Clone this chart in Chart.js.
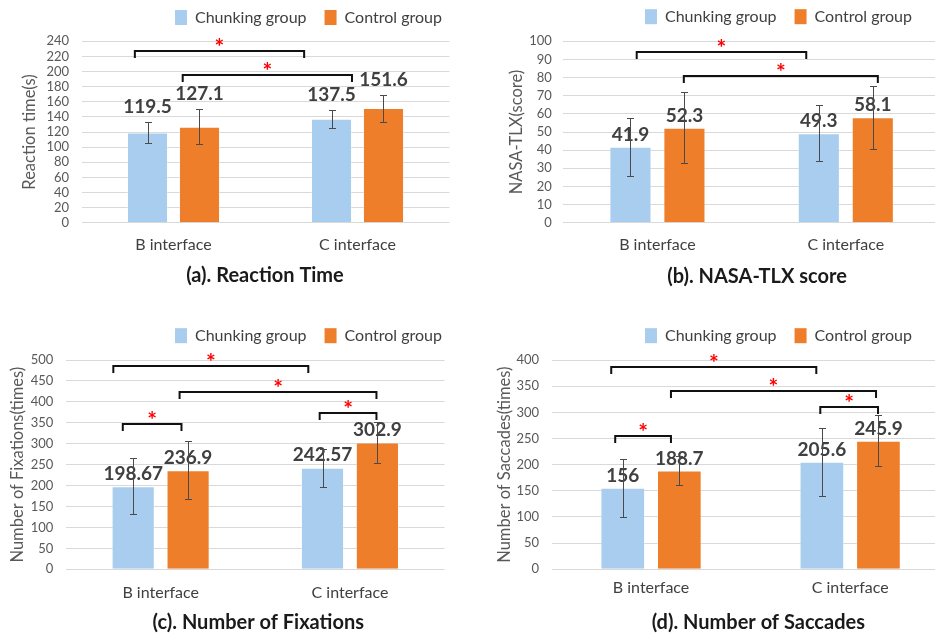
<!DOCTYPE html>
<html><head><meta charset="utf-8">
<script src="https://cdn.jsdelivr.net/npm/chart.js@4.4.1/dist/chart.umd.min.js"></script>
<style>
html,body{margin:0;padding:0;background:#fff;overflow:hidden;width:935px;height:635px;position:relative;}
canvas{position:absolute;display:block;}
</style></head><body>
<canvas id="ca" width="465" height="300" style="left:0;top:0"></canvas>
<canvas id="cb" width="480" height="300" style="left:465px;top:0"></canvas>
<canvas id="cc" width="465" height="315" style="left:0;top:320px"></canvas>
<canvas id="cd" width="490" height="315" style="left:465px;top:320px"></canvas>
<script>
// ---------- data ----------
const categories = ['B interface', 'C interface'];
const groupNames = ['Chunking group', 'Control group'];

const reactionChunking = [119.5, 137.5];
const reactionControl = [127.1, 151.6];
const reactionChunkingSD = [14, 12];
const reactionControlSD = [23.5, 18];
const reactionYMax = 240, reactionYStep = 20;

const nasaChunking = [41.9, 49.3];
const nasaControl = [52.3, 58.1];
const nasaChunkingSD = [16, 15.5];
const nasaControlSD = [19.5, 17.5];
const nasaYMax = 100, nasaYStep = 10;

const fixChunking = [198.67, 242.57];
const fixControl = [236.9, 302.9];
const fixChunkingSD = [67, 45];
const fixControlSD = [69.5, 48];
const fixYMax = 500, fixYStep = 50;

const sacChunking = [156, 205.6];
const sacControl = [188.7, 245.9];
const sacChunkingSD = [55.5, 65];
const sacControlSD = [28, 49];
const sacYMax = 400, sacYStep = 50;

// significance brackets: [from category position, to category position, height in axis units]
const reactionSig = [[-0.21, 0.71, 227], [0.05, 0.97, 196]];
const nasaSig = [[-0.11, 0.79, 94.1], [0.14, 1.17, 80.9]];
const fixSig = [[-0.25, 0.78, 486], [0.10, 1.14, 423], [-0.20, 0.11, 348], [0.84, 1.14, 374]];
const sacSig = [[-0.20, 0.83, 387], [0.10, 1.13, 341], [-0.18, 0.10, 255], [0.85, 1.14, 310]];

// ---------- styles ----------
const BLUE = '#A8CDEE', ORANGE = '#EE7E2A';
const FONT = 'Lato';

const overlay = {
  id: 'overlay',
  afterDatasetsDraw(chart, args, o) {
    const ctx = chart.ctx, ys = chart.scales.y, xs = chart.scales.x;
    ctx.save();
    // value labels
    ctx.font = 'bold 19px ' + FONT;
    ctx.fillStyle = '#404040';
    ctx.textAlign = 'center';
    ctx.textBaseline = 'middle';
    chart.data.datasets.forEach((ds, di) => {
      chart.getDatasetMeta(di).data.forEach((bar, i) => {
        const v = ds.data[i];
        let yy;
        if (o.labelAnchor === 'err') yy = ys.getPixelForValue(v + ds.errors[i]) - o.labelGap;
        else yy = bar.y - o.labelGap;
        ctx.fillText(String(v), bar.x, yy);
      });
    });
    // error bars
    ctx.strokeStyle = '#4a4a4a';
    ctx.lineWidth = 1;
    chart.data.datasets.forEach((ds, di) => {
      chart.getDatasetMeta(di).data.forEach((bar, i) => {
        const v = ds.data[i], e = ds.errors[i];
        const yt = Math.round(ys.getPixelForValue(v + e)) + 0.5;
        const yb = Math.round(ys.getPixelForValue(v - e)) + 0.5;
        const cx = Math.round(bar.x) + 0.5;
        ctx.beginPath();
        ctx.moveTo(cx, yt); ctx.lineTo(cx, yb);
        ctx.moveTo(cx - 3.5, yt); ctx.lineTo(cx + 3.5, yt);
        ctx.moveTo(cx - 3.5, yb); ctx.lineTo(cx + 3.5, yb);
        ctx.stroke();
      });
    });
    // significance brackets
    o.sig.forEach(([a, b, h]) => {
      const x1 = xs.getPixelForValue(a), x2 = xs.getPixelForValue(b);
      const yy = Math.round(ys.getPixelForValue(h));
      ctx.strokeStyle = '#111';
      ctx.lineWidth = 2;
      ctx.beginPath();
      ctx.moveTo(x1, yy + 7); ctx.lineTo(x1, yy); ctx.lineTo(x2, yy); ctx.lineTo(x2, yy + 7);
      ctx.stroke();
      ctx.fillStyle = '#FF0000';
      ctx.font = 'bold 23px ' + FONT;
      ctx.textAlign = 'center';
      ctx.textBaseline = 'alphabetic';
      ctx.fillText('*', (x1 + x2) / 2, yy - 9 + 0.56 * 23);
    });
    ctx.restore();
  },
  afterDraw(chart, args, o) {
    const ctx = chart.ctx;
    ctx.save();
    // legend
    let lx = o.legendX;
    const ly = o.legendY;
    ctx.font = '16px ' + FONT;
    ctx.textBaseline = 'middle';
    ctx.textAlign = 'left';
    chart.data.datasets.forEach(ds => {
      ctx.fillStyle = ds.backgroundColor;
      ctx.fillRect(lx, ly - 7.5, 12, 15);
      ctx.fillStyle = '#404040';
      ctx.fillText(ds.label, lx + 20, ly);
      lx += 20 + ctx.measureText(ds.label).width + 18;
    });
    // caption
    ctx.font = 'bold 20px ' + FONT;
    ctx.fillStyle = '#1a1a1a';
    ctx.textAlign = 'center';
    ctx.fillText(o.caption, o.captionX, o.captionY);
    ctx.restore();
  }
};

function makeChart(id, d, L) {
  return new Chart(document.getElementById(id), {
    type: 'bar',
    data: {
      labels: categories,
      datasets: [
        { label: groupNames[0], data: d.chunk, errors: d.chunkSD, backgroundColor: BLUE,
          borderColor: 'rgba(255,255,255,0.35)', borderWidth: 1,
          categoryPercentage: L.cp, barPercentage: L.bp },
        { label: groupNames[1], data: d.ctrl, errors: d.ctrlSD, backgroundColor: ORANGE,
          borderColor: 'rgba(255,255,255,0.35)', borderWidth: 1,
          categoryPercentage: L.cp, barPercentage: L.bp }
      ]
    },
    options: {
      responsive: false,
      devicePixelRatio: 1,
      animation: false,
      events: [],
      layout: { autoPadding: false, padding: { left: 0, right: L.padR, top: L.padT, bottom: L.padB } },
      plugins: {
        legend: { display: false },
        title: { display: false },
        tooltip: { enabled: false },
        overlay: { sig: d.sig, caption: d.caption, labelAnchor: L.labelAnchor, labelGap: L.labelGap,
                   legendX: L.legendX, legendY: L.legendY, captionX: L.captionX, captionY: L.captionY }
      },
      scales: {
        x: {
          afterFit: s => { s.height = L.xH; },
          grid: { display: false, drawTicks: false },
          border: { display: false },
          ticks: { padding: L.xTickPad, color: '#404040', font: { family: FONT, size: 16 } }
        },
        y: {
          min: 0, max: d.yMax,
          afterFit: s => { s.width = L.yW; },
          grid: { color: '#D9D9D9', lineWidth: 1, drawTicks: false },
          border: { display: false },
          ticks: { stepSize: d.yStep, autoSkip: false, padding: L.yTickPad, color: '#595959', font: { family: FONT, size: 13 } },
          title: { display: true, text: d.yTitle, color: '#595959', font: { family: FONT, size: 16.5 },
                   padding: { top: L.yTitlePad, bottom: 0 } }
        }
      }
    },
    plugins: [overlay]
  });
}

makeChart('ca',
  { chunk: reactionChunking, ctrl: reactionControl, chunkSD: reactionChunkingSD, ctrlSD: reactionControlSD,
    yMax: reactionYMax, yStep: reactionYStep, yTitle: 'Reaction time(s)', caption: '(a). Reaction Time', sig: reactionSig },
  { padR: 15.5, padT: 41.3, padB: 37.3, xH: 40, yW: 81.5, xTickPad: 12.5, yTickPad: 12.5, yTitlePad: 20,
    cp: 0.565, bp: 0.79, labelAnchor: 'err', labelGap: 15, legendX: 175, legendY: 17.5, captionX: 265, captionY: 275.7 });

makeChart('cb',
  { chunk: nasaChunking, ctrl: nasaControl, chunkSD: nasaChunkingSD, ctrlSD: nasaControlSD,
    yMax: nasaYMax, yStep: nasaYStep, yTitle: 'NASA-TLX(score)', caption: '(b). NASA-TLX score', sig: nasaSig },
  { padR: 5, padT: 41.3, padB: 37.3, xH: 40, yW: 98.25, xTickPad: 12.5, yTickPad: 11.5, yTitlePad: 42,
    cp: 0.573, bp: 0.78, labelAnchor: 'bar', labelGap: 12, legendX: 180, legendY: 16.7, captionX: 292, captionY: 276.7 });

makeChart('cc',
  { chunk: fixChunking, ctrl: fixControl, chunkSD: fixChunkingSD, ctrlSD: fixControlSD,
    yMax: fixYMax, yStep: fixYStep, yTitle: 'Number of Fixations(times)', caption: '(c). Number of Fixations', sig: fixSig },
  { padR: 20.4, padT: 40, padB: 25.7, xH: 40, yW: 66, xTickPad: 13.6, yTickPad: 12.7, yTitlePad: 7.5,
    cp: 0.58, bp: 0.786, labelAnchor: 'bar', labelGap: 12.5, legendX: 175, legendY: 15.7, captionX: 258.3, captionY: 302.7 });

makeChart('cd',
  { chunk: sacChunking, ctrl: sacControl, chunkSD: sacChunkingSD, ctrlSD: sacControlSD,
    yMax: sacYMax, yStep: sacYStep, yTitle: 'Number of Saccades(times)', caption: '(d). Number of Saccades', sig: sacSig },
  { padR: 5.3, padT: 40, padB: 25.7, xH: 40, yW: 86.5, xTickPad: 8.6, yTickPad: 12.5, yTitlePad: 30,
    cp: 0.568, bp: 0.79, labelAnchor: 'bar', labelGap: 12, legendX: 180, legendY: 15.7, captionX: 293.3, captionY: 302.7 });
</script>
</body></html>
